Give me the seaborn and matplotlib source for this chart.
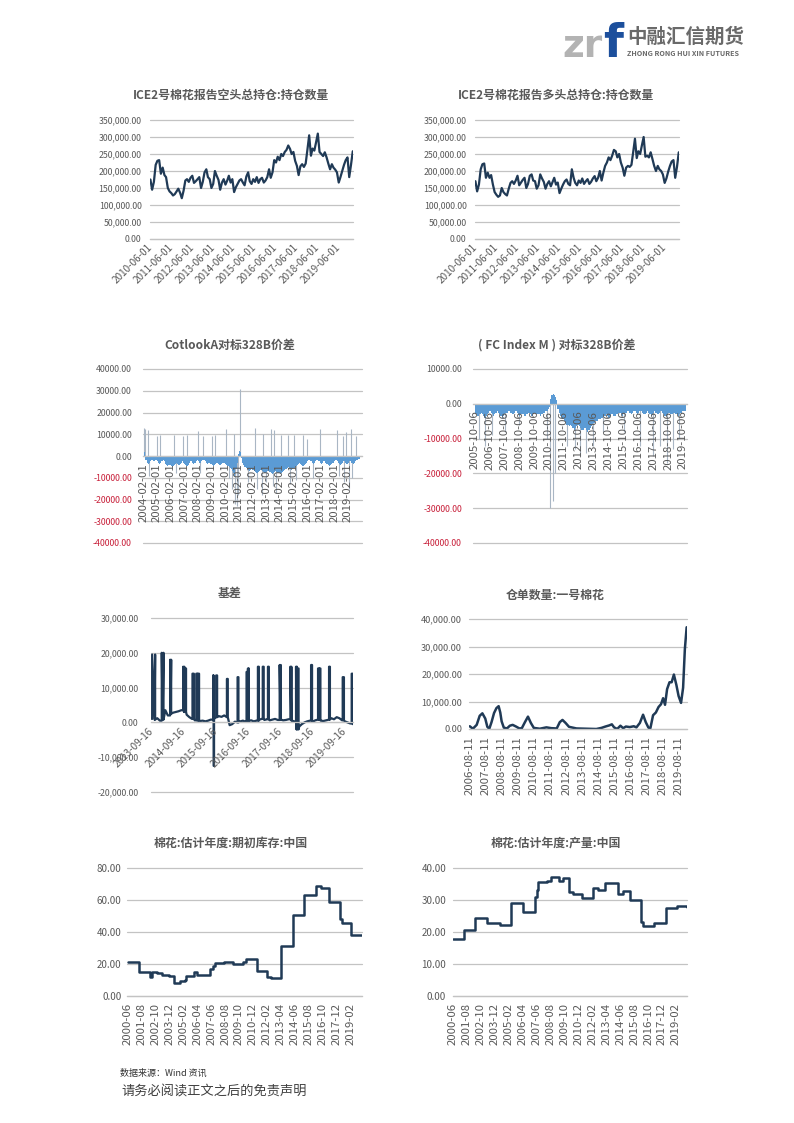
import numpy as np
import pandas as pd
import matplotlib
matplotlib.use('Agg')
import matplotlib.pyplot as plt
import seaborn as sns

sns.set_theme(style='white')
plt.rcParams['font.family'] = ['Noto Sans CJK SC', 'DejaVu Sans']
plt.rcParams['axes.unicode_minus'] = False

W, H = 794, 1123
LINE = '#203a56'
GRID = '#c3c3c3'
TXT = '#595959'
RED = '#c8203a'
BLUE = '#5b9bd5'
SPIKE = '#a9b6c4'

# ---------------- data ----------------
# 1. ICE2 short open interest (thousand lots), monthly from 2010-06
short_oi = [175, 145, 168, 218, 230, 232, 192,
            210, 188, 182, 150, 140, 135, 128, 132, 140, 148, 136, 120,
            142, 172, 176, 168, 180, 186, 165, 170, 176, 182, 150, 168,
            196, 205, 182, 176, 150, 162, 200, 186, 174, 145, 166, 176,
            160, 172, 186, 166, 176, 138, 152, 162, 172, 176, 166, 158,
            184, 196, 170, 162, 176, 168, 182, 165, 176, 180, 166, 172,
            182, 205, 180, 196, 232, 225, 242, 232, 250, 244, 256, 262,
            275, 265, 250, 256, 230, 215, 188, 214, 220, 212, 222, 262,
            305, 245, 266, 260, 284, 310, 256, 250, 244, 255, 240, 222,
            205, 220, 210, 204, 196, 166, 182, 200, 218, 232, 240, 182,
            218, 258]
# 2. ICE2 long open interest (thousand lots), monthly from 2010-06
long_oi = [170, 140, 160, 205, 220, 222, 180,
           195, 180, 188, 160, 138, 130, 124, 128, 150, 138, 132, 128,
           148, 165, 170, 162, 172, 186, 158, 166, 174, 180, 150, 162,
           186, 190, 172, 170, 148, 158, 190, 178, 168, 148, 162, 170,
           155, 168, 180, 160, 166, 135, 148, 160, 170, 175, 162, 158,
           205, 180, 165, 158, 172, 165, 178, 162, 170, 176, 162, 168,
           178, 185, 170, 180, 200, 172, 195, 215, 225, 240, 232, 245,
           262, 258, 240, 250, 225, 210, 186, 210, 215, 212, 218, 255,
           295, 238, 258, 250, 275, 300, 242, 245, 240, 255, 235, 215,
           200, 215, 205, 200, 190, 165, 178, 198, 215, 228, 232, 180,
           212, 255]
oi_ticks = ['2010-06-01', '2011-06-01', '2012-06-01', '2013-06-01', '2014-06-01',
            '2015-06-01', '2016-06-01', '2017-06-01', '2018-06-01', '2019-06-01']

# 3. CotlookA vs 328B spread (thousand yuan), monthly from 2004-02
cotlook_base = [5, 2, -2, -3, -3.5, -3, -2.5, -2, -2, -2.5, -2,
                -2, -2.5, -3, -3.5, -3, -2.5, -2, -2.5, -3.5, -4, -4.5, -4,
                -4, -4.5, -5, -4.5, -4, -3.5, -3, -3.5, -4, -3.5, -3, -2.5,
                -3, -3.5, -4, -4.5, -4, -3, -2.5, -2.5, -3, -3.5, -3, -2.5,
                -2, -2.5, -3, -3, -2.5, -2, -2, -2.5, -3, -3.5, -3, -3,
                -3.5, -4, -4.5, -4, -3.5, -3, -3, -3.5, -4, -3.5, -3, -3,
                -3, -3.5, -4, -4.5, -5, -5.5, -6, -7, -8, -9, -6, -3,
                1, 2.5, 2, -1, -3, -4, -5, -5.5, -6, -6.5, -7, -6.5,
                -6, -6.5, -7, -7.5, -8, -8, -7.5, -7, -6.5, -7, -7.5, -8,
                -8, -7.5, -7, -7, -7.5, -8, -8.5, -8, -7.5, -7, -7.5, -8,
                -8, -8.5, -8, -7.5, -7, -6.5, -6, -5.5, -5, -5.5, -6, -6.5,
                -6, -5.5, -5, -4.5, -4, -3.5, -3, -3.5, -4, -4.5, -4, -3.5,
                -3, -2.5, -2, -2, -2.5, -3, -3.5, -3, -2.5, -2, -2, -2.5,
                -3, -3.5, -3, -2.5, -2.5, -3, -3.5, -4, -4.5, -4, -3.5, -3,
                -3, -2.5, -2, -2.5, -3, -3.5, -4, -3.5, -3, -2.5, -3, -3.5,
                -3.5, -3, -2.5, -2.5, -3, -3.5, -3, -2.5, -2, -2, -1.5, -1.5]
cotlook_spike_dates = ['2004-02-10', '2004-03-20', '2004-05-25', '2004-07-10', '2005-02-05',
                       '2005-05-05', '2006-05-10', '2006-06-20', '2007-01-10', '2007-04-10',
                       '2008-02-05', '2008-03-15', '2008-06-10', '2009-02-05', '2009-05-10',
                       '2010-02-10', '2010-05-10', '2010-08-10', '2010-10-05', '2010-10-20',
                       '2010-12-10', '2011-01-15', '2011-03-10', '2011-10-10', '2012-04-05',
                       '2012-05-20', '2012-10-10', '2012-11-15', '2013-01-15', '2013-06-10',
                       '2013-07-20', '2013-09-10', '2013-10-20', '2014-03-10', '2014-09-10',
                       '2014-10-20', '2015-02-10', '2015-04-10', '2015-10-10', '2016-02-10',
                       '2016-07-10', '2017-01-10', '2018-04-10', '2018-06-15', '2018-09-10',
                       '2018-10-20', '2018-12-10', '2019-02-15', '2019-04-10', '2019-05-20',
                       '2019-09-10']
cotlook_spike_vals = [13000, 12500, 12000, -9000, 9000,
                      9500, 9500, -8000, 9000, 9500,
                      11500, -8000, 9000, 9000, 9500,
                      12500, -10000, -15000, 10000, -22000,
                      -23000, -18000, 31000, -12000, 13000,
                      -15000, -18000, 10000, -12000, 12500,
                      -14000, 12000, -17000, 9500, 9500,
                      -13000, 9500, -11000, 9500, 8000,
                      -10000, 12500, 12000, -9000, 9000,
                      -12000, 11000, -15000, 12500, -10000,
                      9000]
cotlook_ticks = ['2004-02-01', '2005-02-01', '2006-02-01', '2007-02-01', '2008-02-01',
                 '2009-02-01', '2010-02-01', '2011-02-01', '2012-02-01', '2013-02-01',
                 '2014-02-01', '2015-02-01', '2016-02-01', '2017-02-01', '2018-02-01',
                 '2019-02-01']

# 4. FC Index M vs 328B spread (thousand yuan), monthly from 2005-10
fc_base = [-2.5, -3, -3.5,
           -3.5, -3, -2.5, -3, -3.5, -4, -3.5, -3, -2.5, -2, -2.5, -3,
           -3.5, -3, -2.5, -2, -2.5, -3, -3.5, -4, -3.5, -3, -2.5, -2.5,
           -2, -2, -2.5, -3, -3, -2.5, -2, -2.5, -3, -3.5, -3, -3,
           -3, -3.5, -3.5, -3, -2.5, -2.5, -3, -3.5, -3, -2.5, -2.5, -3,
           -3, -3, -3.5, -3, -2.5, -2.5, -2, -2, -1.5, -1, 1.5, 2.5,
           2.8, 2.5, 2, 1, -1.5, -2.5, -3.5, -4, -4.5, -5, -5.5, -6,
           -6, -6.5, -6, -6.5, -7, -7.5, -7, -6.5, -6, -6.5, -7, -7.5,
           -7.5, -7, -7, -7.5, -8, -7.5, -7, -6.5, -6, -5.5, -5, -5,
           -5, -4.5, -4.5, -4, -4, -3.5, -3.5, -3, -3.5, -4, -3.5, -3,
           -3, -3.5, -3.5, -3, -3, -2.5, -2.5, -3, -3.5, -3, -2.5, -2.5,
           -2, -2, -2.5, -3, -2.5, -2, -2, -2.5, -3, -2.5, -2, -2,
           -2.5, -3, -3, -2.5, -2, -2.5, -3, -3.5, -3, -2.5, -2, -2.5,
           -3, -3, -2.5, -2, -2.5, -3, -3.5, -3.5, -3, -2.5, -2.5, -3,
           -3, -2.5, -2.5, -3, -3, -3.5, -3, -2.5, -2, -2, -2, -2]
fc_spike_dates = ['2006-01-10', '2006-06-10', '2006-12-10', '2007-10-10', '2008-10-10',
                  '2010-08-10', '2010-10-20', '2011-01-05', '2011-02-20', '2011-12-10',
                  '2012-07-10', '2012-11-10', '2013-04-10', '2013-09-10', '2014-05-10',
                  '2015-10-10', '2016-11-10', '2017-10-10', '2018-03-10', '2018-09-10',
                  '2019-02-10', '2019-07-10']
fc_spike_vals = [-10000, -12000, -9000, -8000, -6000,
                 -10000, -30000, -28000, -20000, -12000,
                 -13000, -15000, -14000, -12000, -8000,
                 -8000, -12000, -15000, -12000, -17000,
                 -13000, -10000]
fc_ticks = ['2005-10-06', '2006-10-06', '2007-10-06', '2008-10-06', '2009-10-06',
            '2010-10-06', '2011-10-06', '2012-10-06', '2013-10-06', '2014-10-06',
            '2015-10-06', '2016-10-06', '2017-10-06', '2018-10-06', '2019-10-06']

# 5. basis (yuan): monthly baseline from 2013-09 plus spikes (start, end, value)
basis_base = [1000, 800, 1200, 500,
              800, 3500, 2000, 2500, 2800, 3000, 3200, 3500, 3000, 2200, 1500, 1000,
              600, 500, 400, 500, 300, 500, 800, 1000, 1500, 1800, 1600, 2000,
              1500, -800, -500, 200, 0, 300, 500, 200, 400, 600, 300, 500,
              800, 1000, 700, 900, 600, 800, 1000, 700, 800, 600, 700, 900,
              600, 300, -2000, -1200, -500, 0, 300, 500, 200, 600, 800, 500,
              400, 600, 800, 1200, 900, 1500, 1200, 600, 300, 0, -300, -500]
basis_spike_start = ['2013-09-18', '2014-01-05', '2014-04-10', '2014-09-05', '2014-09-25',
                     '2014-12-20', '2015-02-01', '2015-02-20', '2015-08-12', '2015-08-18',
                     '2015-09-15', '2016-01-15', '2016-05-15', '2016-08-25', '2016-09-10',
                     '2017-01-01', '2017-02-25', '2017-04-25', '2017-09-05', '2018-01-05',
                     '2018-03-10', '2018-03-28', '2018-08-28', '2018-11-15', '2018-12-02',
                     '2019-03-20', '2019-08-22', '2019-12-02']
basis_spike_end = ['2013-10-22', '2014-01-25', '2014-04-22', '2014-09-18', '2014-10-08',
                   '2015-01-05', '2015-02-12', '2015-03-05', '2015-08-17', '2015-08-22',
                   '2015-09-26', '2016-01-25', '2016-05-25', '2016-09-05', '2016-09-20',
                   '2017-01-12', '2017-03-08', '2017-05-05', '2017-09-18', '2018-01-16',
                   '2018-03-20', '2018-04-08', '2018-09-08', '2018-11-25', '2018-12-12',
                   '2019-03-30', '2019-09-05', '2019-12-13']
basis_spike_vals = [19500, 20000, 18000, 16000, 15500,
                    14000, 14000, 14000, 13500, -12500,
                    13500, 12500, 13000, 14500, 15500,
                    16000, 16000, 16000, 16500, 16000,
                    16000, 15500, 16500, 15500, 15500,
                    16000, 13000, 14000]
basis_ticks = ['2013-09-16', '2014-09-16', '2015-09-16', '2016-09-16',
               '2017-09-16', '2018-09-16', '2019-09-16']

# 6. warehouse receipts, No.1 cotton
receipt_dates = ['2006-08-05', '2006-10-15', '2007-01-10', '2007-03-20', '2007-05-20',
                 '2007-07-25', '2007-09-10', '2007-10-25', '2007-12-15', '2008-02-10',
                 '2008-04-05', '2008-05-25', '2008-07-01', '2008-08-01', '2008-09-20',
                 '2008-12-01', '2009-02-05', '2009-04-10', '2009-06-25', '2009-09-10',
                 '2009-11-05', '2010-01-15', '2010-03-25', '2010-05-30', '2010-08-05',
                 '2010-12-20', '2011-05-20', '2011-09-10', '2012-01-10', '2012-03-20',
                 '2012-05-20', '2012-07-30', '2012-10-15', '2013-04-05', '2013-11-15',
                 '2014-07-01', '2014-10-25', '2015-01-25', '2015-04-20', '2015-06-20',
                 '2015-08-10', '2015-10-20', '2016-01-01', '2016-03-05', '2016-05-05',
                 '2016-08-01', '2016-11-01', '2017-01-01', '2017-03-20', '2017-06-01',
                 '2017-08-01', '2017-10-01', '2017-11-15', '2018-01-15', '2018-03-20',
                 '2018-05-20', '2018-07-15', '2018-09-01', '2018-10-15', '2018-12-01',
                 '2019-01-25', '2019-03-15', '2019-05-05', '2019-07-01', '2019-08-20',
                 '2019-10-15', '2019-12-01', '2020-01-10', '2020-02-20']
receipt_vals = [1000, 100, 1500, 4800, 5700,
                3800, 800, 100, 2500, 5800,
                7600, 8300, 6000, 2800, 500,
                200, 1200, 1500, 900, 200,
                300, 2500, 4500, 2200, 400,
                100, 600, 300, 200, 2500,
                3300, 2200, 800, 200, 100,
                0, 400, 900, 1300, 1700,
                600, 0, 1200, 300, 900,
                700, 1000, 600, 2200, 5200,
                2500, 500, 300, 5000, 6000,
                8000, 9000, 11200, 8800, 14500,
                17000, 17000, 19800, 16000, 12000,
                9500, 15000, 29000, 37000]
receipt_ticks = ['2006-08-11', '2007-08-11', '2008-08-11', '2009-08-11', '2010-08-11',
                 '2011-08-11', '2012-08-11', '2013-08-11', '2014-08-11', '2015-08-11',
                 '2016-08-11', '2017-08-11', '2018-08-11', '2019-08-11']

# 7. China cotton beginning stocks (step changes)
stock_dates = ['2000-06-01', '2001-05-01', '2002-04-01', '2002-06-01', '2002-11-01',
               '2003-04-01', '2003-11-01', '2004-04-01', '2004-10-01', '2005-04-01',
               '2005-05-01', '2006-01-01', '2006-04-01', '2007-05-01', '2007-08-01',
               '2007-10-01', '2008-07-01', '2009-04-01', '2010-02-01', '2010-05-01',
               '2011-04-01', '2012-02-01', '2012-06-01', '2013-04-01', '2014-04-01',
               '2015-04-01', '2016-04-01', '2016-09-01', '2017-05-01', '2018-04-01',
               '2018-06-01', '2019-03-01', '2020-02-01']
stock_vals = [21, 15, 12, 15, 14.5,
              13, 12.5, 8, 9.5, 10,
              12.5, 15, 13, 17, 18.5,
              20.5, 21, 20, 21, 23,
              15.5, 12, 11, 31, 50.5,
              63, 68.5, 67.5, 58.5, 48,
              45.5, 38, 38]

# 8. China cotton production (step changes)
prod_dates = ['2000-06-01', '2001-05-01', '2002-04-01', '2003-04-01', '2004-05-01',
              '2005-04-01', '2006-04-01', '2007-04-01', '2007-06-01', '2007-07-01',
              '2008-04-01', '2008-08-01', '2009-04-01', '2009-08-01', '2010-03-01',
              '2010-07-01', '2011-04-01', '2012-03-01', '2012-08-01', '2013-03-01',
              '2014-04-01', '2014-09-01', '2015-04-01', '2016-03-01', '2016-05-01',
              '2017-04-01', '2018-04-01', '2019-03-01', '2020-01-01']
prod_vals = [17.8, 20.5, 24.5, 22.7, 22.3,
             29, 26.2, 31, 33, 35.7,
             36, 37.2, 36, 37, 32.5,
             32, 30.6, 33.8, 33.2, 35.3,
             32, 32.8, 30, 23, 22,
             22.8, 27.5, 28, 27.8]
season_ticks = ['2000-06', '2001-08', '2002-10', '2003-12', '2005-02', '2006-04',
                '2007-06', '2008-08', '2009-10', '2010-12', '2012-02', '2013-04',
                '2014-06', '2015-08', '2016-10', '2017-12', '2019-02']

titles = ['ICE2号棉花报告空头总持仓:持仓数量', 'ICE2号棉花报告多头总持仓:持仓数量',
          'CotlookA对标328B价差', '( FC Index M ) 对标328B价差',
          '基差', '仓单数量:一号棉花',
          '棉花:估计年度:期初库存:中国', '棉花:估计年度:产量:中国']

# ---------------- figure ----------------
fig = plt.figure(figsize=(W / 100, H / 100), dpi=100)
fig.patch.set_facecolor('white')


def add_ax(l, t, r, b):
    ax = fig.add_axes([l / W, 1 - b / H, (r - l) / W, (b - t) / H])
    for s in ['left', 'right', 'top']:
        ax.spines[s].set_visible(False)
    ax.spines['bottom'].set_color(GRID)
    ax.spines['bottom'].set_linewidth(0.9)
    ax.patch.set_alpha(0)
    ax.grid(False)
    return ax


def style_y(ax, ticks, fmt, pad, size=6.3, red=False):
    ax.set_ylim(ticks[0], ticks[-1])
    ax.set_yticks(ticks)
    ax.set_yticklabels([fmt(v) for v in ticks])
    ax.tick_params(axis='y', length=0, labelsize=size, labelcolor=TXT, pad=pad)
    for v, lab in zip(ticks, ax.get_yticklabels()):
        if red and v < 0:
            lab.set_color(RED)
    for v in ticks:
        ax.axhline(v, color=GRID, lw=0.9, zorder=0, clip_on=False)
    ax.set_ylabel('')


def style_x(ax, tick_labels, xlim, rot, size=7.5):
    ax.set_xlim(pd.Timestamp(xlim[0]), pd.Timestamp(xlim[1]))
    ax.set_xticks(pd.to_datetime(tick_labels))
    if rot == 45:
        ax.set_xticklabels(tick_labels, rotation=45, ha='right', va='center',
                           rotation_mode='anchor')
    else:
        ax.set_xticklabels(tick_labels, rotation=90, ha='center', va='top')
    ax.tick_params(axis='x', length=3, width=0.8, color=GRID, labelsize=size,
                   labelcolor=TXT, pad=2)
    ax.set_xlabel('')
    ax.xaxis.set_zorder(5)


fmt_comma = lambda v: f'{v:,.2f}'
fmt_plain = lambda v: f'{v:.2f}'

# 1 & 2: open interest
for vals, box, xl in [(short_oi, (150, 120, 353, 239), ('2010-05-25', '2020-02-05')),
                      (long_oi, (475, 120, 679, 239), ('2010-05-25', '2020-02-05'))]:
    ax = add_ax(*box)
    d = pd.date_range('2010-06-01', periods=len(vals), freq='MS')
    sns.lineplot(x=d, y=np.array(vals) * 1000, ax=ax, color=LINE, linewidth=1.6)
    style_y(ax, list(range(0, 350001, 50000)), fmt_comma, pad=6)
    style_x(ax, oi_ticks, xl, 45, size=7.2)

# 3: Cotlook spread
ax = add_ax(143, 369, 362, 543)
d = pd.date_range('2004-02-01', periods=len(cotlook_base), freq='MS') + pd.Timedelta(days=14)
ax.fill_between(d, 0, np.array(cotlook_base) * 1000, step='mid', color=BLUE, lw=0, zorder=2)
ax.vlines(pd.to_datetime(cotlook_spike_dates), 0, cotlook_spike_vals, color=SPIKE, lw=0.8, zorder=1.5)
ax.spines['bottom'].set_position(('data', 0))
ax.spines['bottom'].set_zorder(3)
style_y(ax, list(range(-40000, 40001, 10000)), fmt_plain, pad=8, red=True)
style_x(ax, cotlook_ticks, ('2004-01-24', '2020-02-08'), 90, size=8.2)

# 4: FC Index spread
ax = add_ax(473, 369, 687, 543)
d = pd.date_range('2005-10-01', periods=len(fc_base), freq='MS') + pd.Timedelta(days=14)
ax.fill_between(d, 0, np.array(fc_base) * 1000, step='mid', color=BLUE, lw=0, zorder=2)
ax.vlines(pd.to_datetime(fc_spike_dates), 0, fc_spike_vals, color=SPIKE, lw=0.8, zorder=1.5)
ax.spines['bottom'].set_position(('data', 0))
ax.spines['bottom'].set_zorder(3)
style_y(ax, list(range(-40000, 10001, 10000)), fmt_plain, pad=8, red=True)
style_x(ax, fc_ticks, ('2005-08-27', '2020-01-12'), 90, size=8.2)

# 5: basis
ax = add_ax(151, 618, 353, 792)
bd = pd.date_range('2013-09-01', periods=len(basis_base), freq='MS') + pd.Timedelta(days=14)
base_s = pd.Series(basis_base, index=bd)
pts = [(t, 0, v) for t, v in zip(bd, basis_base)]
for s, e, h in zip(basis_spike_start, basis_spike_end, basis_spike_vals):
    s, e = pd.Timestamp(s), pd.Timestamp(e)
    bs = base_s[:s].iloc[-1] if len(base_s[:s]) else basis_base[0]
    be = base_s[:e].iloc[-1] if len(base_s[:e]) else basis_base[0]
    pts += [(s, 1, bs), (s, 2, h), (e, 3, h), (e, 4, be)]
pts.sort(key=lambda p: (p[0], p[1]))
sns.lineplot(x=[p[0] for p in pts], y=[p[2] for p in pts], ax=ax, color=LINE,
             linewidth=1.6, sort=False, estimator=None)
ax.spines['bottom'].set_position(('data', 0))
style_y(ax, list(range(-20000, 30001, 10000)), fmt_comma, pad=9)
style_x(ax, basis_ticks, ('2013-09-05', '2019-12-17'), 45, size=7.2)

# 6: warehouse receipts
ax = add_ax(469, 619, 687, 729)
sns.lineplot(x=pd.to_datetime(receipt_dates), y=receipt_vals, ax=ax, color=LINE, linewidth=1.8)
style_y(ax, list(range(0, 40001, 10000)), fmt_comma, pad=5, size=6.6)
style_x(ax, receipt_ticks, ('2006-07-19', '2020-02-28'), 90, size=8.2)

# 7: beginning stocks
ax = add_ax(127, 868, 362, 996)
sns.lineplot(x=pd.to_datetime(stock_dates), y=stock_vals, ax=ax, color=LINE,
             linewidth=1.8, drawstyle='steps-post')
style_y(ax, [0, 20, 40, 60, 80], fmt_plain, pad=4, size=7)
style_x(ax, season_ticks, ('2000-05-01', '2020-02-01'), 90, size=8.2)

# 8: production
ax = add_ax(453, 868, 687, 996)
sns.lineplot(x=pd.to_datetime(prod_dates), y=prod_vals, ax=ax, color=LINE,
             linewidth=1.8, drawstyle='steps-post')
style_y(ax, [0, 10, 20, 30, 40], fmt_plain, pad=5, size=7)
style_x(ax, season_ticks, ('2000-06-01', '2020-01-01'), 90, size=8.2)

# titles
title_pos = [(231, 95), (556, 95), (230, 345), (557, 345),
             (230, 594), (555, 595), (231, 843), (556, 843)]
for t, (x, y) in zip(titles, title_pos):
    fig.text(x / W, 1 - y / H, t, ha='center', va='center', fontsize=8.6,
             fontweight='bold', color=TXT)

# logo
fig.text(562 / W, 1 - 57 / H, 'zr', fontsize=27, fontweight='bold', color='#b3b3b3',
         family='DejaVu Sans', ha='left', va='baseline')
fig.text(603 / W, 1 - 57 / H, 'f', fontsize=33, fontweight='bold', color='#1c4f9c',
         family='DejaVu Sans', ha='left', va='baseline')
fig.text(627 / W, 1 - 37 / H, '中融汇信期货', fontsize=14, fontweight='bold',
         color='#6a6a6a', ha='left', va='center')
fig.text(627 / W, 1 - 54 / H, 'ZHONG RONG HUI XIN FUTURES', fontsize=5.2,
         fontweight='bold', color='#6a6a6a', ha='left', va='center')

# footer
fig.text(120 / W, 1 - 1073 / H, '数据来源：Wind 资讯', fontsize=6.5, color='#333333',
         ha='left', va='center')
fig.text(121 / W, 1 - 1092 / H, '请务必阅读正文之后的免责声明', fontsize=9.5,
         color='#404040', ha='left', va='center')

fig.savefig('out.png', dpi=100, facecolor='white')
